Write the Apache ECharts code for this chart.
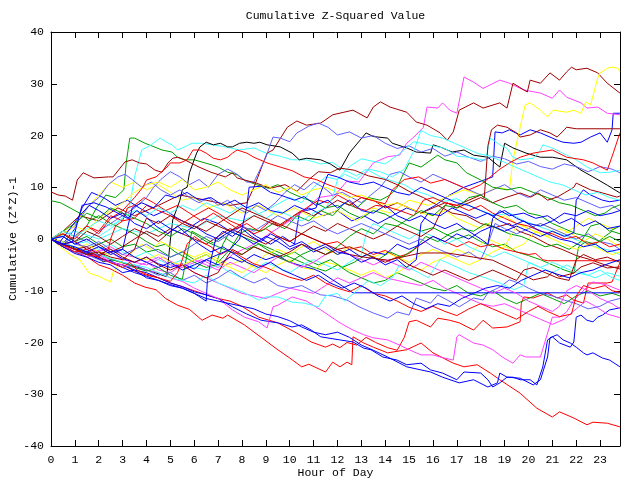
<!DOCTYPE html>
<html><head><meta charset="utf-8">
<script src="https://cdn.jsdelivr.net/npm/echarts@6/dist/echarts.min.js"></script>
<style>html,body{margin:0;padding:0;background:#fff}#c{width:640px;height:480px}</style>
</head><body><div id="c"></div>
<script>
const titleText = 'Cumulative Z-Squared Value';
const xName = 'Hour of Day';
const yName = 'Cumulative (Z*Z)-1';
const xTicks = [0,1,2,3,4,5,6,7,8,9,10,11,12,13,14,15,16,17,18,19,20,21,22,23];
const yTicks = [-40,-30,-20,-10,0,10,20,30,40];

// ---- series values: [hour, cumulative value] ----
const R1 = [[0,0],[0.5,-1.2],[1,-2.5],[1.5,-3.4],[2,-5],[2.5,-5.8],[3,-7],[3.5,-8.5],[3.94,-9.3],[4.4,-9.8],[4.8,-11.5],[5.3,-12.8],[5.8,-13.6],[6.33,-15.7],[6.75,-14.7],[7.2,-15.3],[7.4,-14.7],[8.1,-16.6],[8.8,-19],[9.5,-21.4],[10,-23],[10.5,-24.7],[10.8,-24.2],[11.5,-25.7],[11.8,-23.8],[12.1,-24.7],[12.4,-23.8],[12.6,-24.3],[12.65,-18.9],[13.1,-20.1],[13.5,-20.9],[14.1,-22],[14.9,-21.4],[15.5,-20.1],[16,-22],[16.85,-24],[17.3,-24.7],[17.85,-24.3],[18.4,-25.9],[18.8,-27.2],[19.65,-29.8],[20.35,-32.7],[21,-34.4],[21.3,-33.4],[21.9,-34.6],[22.45,-35.9],[22.7,-35.4],[23.3,-35.6],[23.83,-36.3]];
const R2 = [[0,0],[0.5,-0.8],[1,-2],[1.5,-2.6],[2,-3.5],[2.5,-4.5],[3,-5],[3.5,-6.2],[4,-7],[4.5,-7.5],[5,-8.5],[5.5,-9.2],[6,-10],[6.5,-10.8],[7,-11.5],[7.5,-12],[8,-13],[8.7,-15.1],[9.5,-16.2],[10.3,-18.2],[10.9,-19.9],[11.5,-20.9],[11.8,-20.3],[12.1,-21],[12.4,-20],[12.8,-20.5],[13.2,-19],[13.6,-20],[14.1,-21],[14.5,-21.5],[14.8,-19],[15,-16],[15.3,-15.7],[15.9,-17],[16.2,-15.3],[16.7,-15.7],[17.1,-16.2],[17.7,-17.6],[18.1,-15.7],[18.5,-17.2],[19.1,-17],[19.65,-16],[19.7,-12.4],[19.8,-11.2],[20.2,-11.4],[20.8,-10.4],[21.2,-11.4],[21.6,-10.8],[21.9,-11.8],[22.3,-12.4],[22.5,-8.5],[23.3,-8.5],[23.5,-8.3],[23.7,-6],[23.83,-4.6]];
const R3 = [[0,0],[0.5,1.5],[1,0.5],[1.5,2.5],[2,1.5],[2.5,4.5],[3,3.5],[3.5,4],[4,6.5],[4.5,5.5],[5,4.5],[5.5,3],[6,4.5],[6.6,6],[7,5],[7.5,3.5],[8,2.5],[8.5,1],[9,2],[9.5,0.5],[10,-0.5],[10.5,1],[11,0],[11.5,-1],[12,-0.5],[12.5,-2],[13,-1.5],[13.5,-3],[14,-2.2],[14.5,-3.5],[15,-2.8],[15.5,-1],[16,0.5],[16.5,-0.5],[17,-1.5],[17.5,-0.5],[18,-1.5],[18.5,-1],[19,-2],[19.5,-2.5],[20,-3],[20.3,-2.8],[20.6,-4],[20.8,-4.2],[23.83,-4.2]];
const R4 = [[0,0],[0.5,1],[1,0],[1.5,2.5],[2,1],[2.5,4],[3,5.5],[3.5,8],[3.85,10],[4,11.4],[4.4,12],[4.86,13.9],[5,14.7],[5.4,14.7],[5.7,15.3],[5.95,17.2],[6.24,17.2],[6.5,16.6],[6.8,15.6],[7.1,15.3],[7.4,15.8],[7.6,16.6],[7.8,17.2],[8.2,16.6],[8.5,15.8],[9.05,14.7],[9.6,13.9],[10.1,13.2],[10.6,12],[11.1,11.5],[11.6,10.5],[12.2,9.5],[12.8,8.3],[13.4,7.5],[14,6.8],[14.3,9.5],[14.8,11.5],[15.4,12],[15.9,10.8],[16.5,11.5],[17,10.5],[17.5,9.5],[18,10.5],[18.4,12],[18.8,13.5],[19.2,14.7],[19.65,15.8],[20.2,16.6],[21,17.2],[21.6,15.8],[22.3,15.3],[22.7,14.7],[23.3,13.3],[23.55,16.6],[23.83,20.5]];
const R5 = [[0,0],[0.5,-1.5],[1,-2.5],[1.5,-2],[2,-3.5],[2.4,-2],[2.5,0],[2.7,2.5],[3,3.5],[3.2,6],[3.5,6.5],[3.9,8],[4.3,7],[4.8,5.5],[5.3,6.5],[5.8,5],[6.3,3.5],[6.8,5],[7.3,3.5],[7.8,2],[8.2,3],[8.7,1.5],[9.2,3.5],[9.6,2.5],[10.2,4.5],[10.7,6],[11.2,7.5],[11.6,7],[12,8.5],[12.4,7.5],[12.8,6],[13.2,5.5],[13.6,6.5],[14.1,6.2],[14.6,5.5],[15.2,4.5],[15.6,7.5],[16,8],[16.5,7],[17,6.5],[17.5,5.5],[18,6.5],[18.5,5],[19,4],[19.5,3],[20,2.5],[20.5,1.5],[21,1],[21.5,0],[22,0.5],[22.5,-1],[23,-0.5],[23.4,-1.5],[23.83,-1]];
const R6 = [[0,0],[0.3,-0.8],[0.7,-1.5],[1,-2],[1.5,-3],[2,-3.5],[2.5,-4.6],[3,-5.5],[3.3,-4.5],[3.6,-6],[4,-6.8],[4.5,-7.5],[5,-8.2],[5.3,-6.5],[5.5,-4],[5.7,-1],[6,0.5],[6.3,-0.5],[6.7,-1.5],[7.1,-3],[7.5,-2],[8,-3.5],[8.5,-4.8],[9,-5.5],[9.5,-6.5],[10,-7.4],[10.5,-8],[11,-7],[11.5,-8.5],[12,-9.5],[12.5,-10.2],[13,-9],[13.5,-10.5],[14,-11],[14.5,-12],[15,-13.2],[15.5,-14],[16,-13],[16.5,-14],[17,-14.8],[17.5,-13.5],[18,-12.5],[18.5,-13.5],[19,-14.5],[19.5,-15.5],[20,-14],[20.4,-13],[20.8,-14],[21.3,-15],[21.8,-14.5],[22,-11],[22.3,-9],[22.7,-9.6],[23.2,-9],[23.5,-10],[23.83,-10.3]];
const G1 = [[0,0],[0.5,-1],[1,0.5],[1.5,2.5],[1.9,6],[2.3,8.5],[2.7,8],[3.05,9.5],[3.15,14.7],[3.3,19.5],[3.5,19.5],[3.94,18.5],[4.65,17.2],[5.07,16.8],[5.3,15.8],[5.6,15.3],[6,15.3],[6.45,14.7],[6.75,14.3],[7,13.9],[7.4,12.9],[7.8,12.4],[8.1,11.4],[8.6,10.5],[9.1,9.8],[9.5,10.5],[10,9],[10.5,8],[11,7.2],[11.5,6],[12,6.5],[12.5,5],[13,4],[13.5,5.5],[14,4.8],[14.5,3.5],[15,2.5],[15.5,1.5],[16,2.2],[16.5,1],[17,0],[17.5,0.8],[18,-0.5],[18.5,-1.5],[19,-1],[19.5,-2.5],[20,-3.2],[20.5,-4],[21,-5],[21.5,-6],[21.9,-6.6],[22,-4],[22.1,-1.5],[22.4,-0.5],[22.8,-1],[23.2,0.5],[23.5,1.5],[23.83,1]];
const G2 = [[0,7.4],[0.4,7],[0.8,6],[1.2,5],[1.6,3.5],[2,4.5],[2.5,3],[3,2],[3.5,1],[4,-0.5],[4.4,-1.5],[4.8,-1],[5.2,-2.5],[5.6,-3.5],[6,-4.5],[6.5,-5.5],[6.9,-5],[7.2,-1],[7.5,1.5],[8,0.5],[8.5,-0.5],[9,-1.5],[9.5,-2.5],[10,-3.5],[10.5,-4.5],[11,-5.5],[11.5,-6.2],[12,-5],[12.5,-6.5],[13,-7.5],[13.5,-8.5],[14,-8],[14.5,-6.5],[15,-7.5],[15.5,-8.5],[16,-9.5],[16.5,-10],[17,-9],[17.5,-10.5],[18,-11],[18.5,-10],[19,-11.5],[19.5,-12.5],[20,-11.5],[20.5,-10.5],[21,-11.5],[21.5,-12.5],[22,-11],[22.5,-10],[23,-11],[23.5,-10.5],[23.83,-11]];
const G3 = [[0,0],[0.5,1],[1,-0.5],[1.5,0.5],[2,-1],[2.5,0],[3,-1.5],[3.5,-1],[4,-2.5],[4.5,-2],[5,-3.5],[5.5,-2.5],[6,-4],[6.5,-3],[7,-4.5],[7.5,-2],[7.9,1],[8.3,2],[8.8,1.5],[9.3,3],[9.8,2],[10.3,4.5],[10.8,3.5],[11.3,5.5],[11.8,4.5],[12.3,7],[12.8,6],[13.3,8],[13.8,7.5],[14.2,8.5],[14.5,10],[14.7,12],[15,14.7],[15.5,13.9],[16.2,16.2],[16.5,15.3],[17,14.7],[17.4,12.8],[18,11.4],[18.5,10],[19.1,9.5],[19.65,10],[20.2,9],[20.8,8],[21.3,7],[21.8,6.5],[22.3,5.5],[22.8,4.5],[23.2,5],[23.5,6],[23.83,6.6]];
const G4 = [[0,0],[0.5,-1.2],[1,-1.8],[1.5,-3],[2,-2.5],[2.5,-4],[3,-4.5],[3.5,-5.5],[4,-6.2],[4.5,-5.5],[5,-7],[5.5,-7.8],[5.7,-3],[5.9,1.5],[6.3,0.5],[6.8,-0.8],[7.2,0.5],[7.7,-1],[8.2,-2],[8.7,-1],[9.2,-2.5],[9.7,-3.5],[10.2,-2.5],[10.7,-4],[11.2,-5],[11.7,-4],[12.2,-5.5],[12.7,-4.5],[13.2,-3],[13.7,-4],[14.2,-2.5],[14.7,-3.5],[15.2,-2],[15.7,0.5],[16.2,-0.5],[16.7,1],[17.2,2],[17.7,1.5],[18.2,3],[18.7,2],[19.2,1],[19.7,0.5],[20.2,-0.5],[20.7,-1.5],[21.2,-1],[21.7,-2],[22.2,-0.5],[22.6,2.5],[23,3],[23.4,1.5],[23.83,2.5]];
const G5 = [[0,0],[0.5,1.5],[1,3],[1.5,5],[2,4],[2.5,6],[3,5],[3.5,4],[4,3],[4.5,1.5],[5,0.5],[5.5,2],[6,1],[6.5,-0.5],[7,-1.5],[7.5,-2.5],[8,-3],[8.5,-1.5],[9,-2.5],[9.5,-3.5],[10,-4.5],[10.5,-3],[11,-2],[11.5,-3],[12,-1.5],[12.5,0.5],[13,2],[13.5,1],[14,3],[14.5,2.5],[15,4],[15.5,5.5],[16,4.5],[16.5,6.5],[17,6],[17.5,8],[18,8.5],[18.5,7],[19,6],[19.5,6.5],[20,5],[20.5,4.5],[21,3],[21.5,2],[22,1],[22.5,0.5],[23,-0.5],[23.4,0.5],[23.83,-0.5]];
const B1 = [[0,0],[0.5,-1],[1,2],[1.3,6],[1.7,9],[2.2,8],[2.7,6.5],[3.2,7.5],[3.7,6],[4.3,4.5],[4.8,5.5],[5.3,4],[5.9,2.5],[6.4,4],[7,3],[7.5,1.5],[8,2.5],[8.6,0.5],[9.2,-1],[9.7,0.5],[10.2,-1],[10.4,5],[10.8,6],[11.4,4.5],[12,5.5],[12.6,3.5],[13.1,4.5],[13.7,3],[14.3,4.5],[14.9,6],[15.5,5],[16.1,6.5],[16.7,8.5],[17.3,10],[17.9,11],[18.5,12],[18.6,20.7],[18.9,20.5],[19.2,21.1],[19.65,20.1],[20.07,21.1],[20.5,20.5],[20.9,19.7],[21.2,19.1],[21.45,18.7],[21.9,18.5],[22.2,18.7],[22.6,19.7],[23,20.5],[23.3,18.7],[23.5,21.1],[23.55,24.3],[23.83,24.3]];
const B2 = [[0,0],[0.5,-1],[1,-2],[1.5,-2.8],[2,-3.5],[2.5,-4.5],[3,-5],[3.5,-6],[4,-6.5],[4.5,-7.5],[5,-8.5],[5.5,-9.2],[6,-10.2],[6.5,-10.8],[7,-11.5],[7.6,-13.1],[8.2,-14.5],[8.8,-15.7],[9.5,-16.2],[10.1,-17],[10.5,-16.6],[10.9,-17.6],[11.3,-18.9],[12.1,-19.5],[12.65,-19.9],[13.1,-21.1],[13.4,-21.4],[13.9,-22.8],[14.5,-23.4],[14.9,-24.3],[15.5,-24],[15.9,-25.3],[16.4,-25.9],[17,-27.2],[17.3,-25.7],[18,-25.9],[18.3,-27.2],[18.5,-28.6],[18.8,-27.8],[19.1,-26.7],[19.65,-26.9],[20.2,-28.2],[20.5,-27.2],[20.8,-22.8],[20.9,-19.1],[21.2,-18.5],[21.45,-19.5],[21.75,-20.1],[22,-20.9],[22.3,-22],[22.45,-22.4],[22.7,-22],[23.1,-23],[23.4,-23.4],[23.83,-24.7]];
const B3 = [[0,0],[0.5,-1.2],[1,-1.8],[1.5,-3],[2,-3.8],[2.5,-4.2],[3,-5.5],[3.5,-6.5],[4,-7.2],[4.5,-8],[5,-8.8],[5.5,-9.5],[6,-10.5],[6.5,-11.5],[7,-12],[7.5,-12.5],[8,-13],[8.5,-13.5],[9,-14.5],[9.5,-15],[10,-15.8],[10.5,-17],[11,-18],[11.5,-18.5],[12,-18],[12.5,-19],[13,-20.5],[13.5,-21.5],[14.1,-22.8],[14.9,-24.7],[15.9,-25.7],[16.4,-26.7],[17.1,-27.8],[17.7,-27.2],[18.3,-28.6],[18.7,-27.8],[18.8,-25.9],[19.1,-26.7],[19.35,-26.7],[19.65,-27.2],[20.07,-27.2],[20.35,-28.2],[20.6,-24.7],[20.8,-19.5],[21,-18.9],[21.3,-20.1],[21.75,-20.9],[21.9,-19.9],[22,-15.1],[22.2,-14.7],[22.45,-15.7],[22.7,-16],[22.9,-15.1],[23.1,-14.7],[23.4,-13.7],[23.83,-13.3]];
const B4 = [[0,0],[0.5,-0.5],[1,-1.8],[1.5,-2.5],[2,-3.2],[2.5,-2.5],[3,-3.8],[3.5,-4.5],[4,-3.5],[4.5,-4.8],[5,-5.5],[5.5,-4.8],[6,-5.8],[6.5,-4],[7,-5],[7.5,-3.5],[8,-4.5],[8.5,-3],[9,-4],[9.5,-3.2],[10,-4.5],[10.5,-5.2],[11,-5.8],[11.3,-6.4],[11.8,-7.9],[12.65,-10.4],[23.83,-10.4]];
const B5 = [[0,0],[0.3,-1],[0.8,2],[1.2,4.5],[1.6,6.5],[2,5.5],[2.5,4],[3,5],[3.5,3],[4,2],[4.5,3.5],[5,2],[5.5,1],[6,2.5],[6.5,1],[7,0],[7.5,1.5],[8,0.5],[8.5,-1],[9,0.5],[9.5,-0.5],[10,-2],[10.5,-1],[11,-2.5],[11.5,-1.5],[12,-3],[12.5,-2],[13,-3.5],[13.5,-2.5],[14,-3],[14.5,-1],[15,-2],[15.5,-1],[16,0.5],[16.5,-0.5],[17,1],[17.5,0],[18,1.5],[18.5,2.5],[19,1.5],[19.5,2.5],[20,1.5],[20.5,0.5],[21,1.5],[21.5,0.5],[21.9,1.2],[22,7.5],[22.2,8.9],[22.3,9.5],[22.6,8.5],[22.9,7.9],[23.1,7.5],[23.4,7.2],[23.83,7.5]];
const B6 = [[0,0],[0.5,-1.5],[1,-2.8],[1.5,-3.5],[2,-4.5],[2.5,-5],[3,-6.5],[3.5,-6],[4,-7.5],[4.5,-8],[5,-9],[5.5,-9.5],[6,-10.5],[6.5,-12],[6.55,-8],[6.7,-4],[6.9,0],[7.2,1.5],[7.6,0.5],[8,2],[8.4,0.5],[8.8,-0.5],[9.2,1],[9.6,0],[10,-1.5],[10.5,-0.5],[11,-2],[11.5,-1],[12,-2.5],[12.5,-3],[13,-4.5],[13.5,-3.5],[14,-5],[14.5,-4],[14.9,-5.5],[15.3,-4],[15.5,3],[15.8,5],[16.3,4.5],[16.8,6],[17.3,5],[17.8,4],[18.3,5],[18.8,3.5],[19.3,2.5],[19.8,3.5],[20.3,2],[20.8,1],[21.3,0],[21.8,-0.5],[22.3,-1.5],[22.8,-1],[23.3,-2.5],[23.83,-2]];
const B7 = [[0,0],[0.5,0.5],[1,-1],[1.5,0],[2,-1.5],[2.5,-2.5],[3,-2],[3.5,-3.5],[4,-4.5],[4.5,-5.5],[5,-4.5],[5.5,-6],[6,-5],[6.5,-4],[7,-3],[7.5,-2],[7.9,0],[8.2,6.2],[8.3,10],[8.8,10.2],[9.2,9],[9.6,8.5],[10.2,7.5],[10.6,8.2],[11.1,6.5],[11.6,7.5],[12,6],[12.5,7.5],[13,5.5],[13.5,5],[14,6.5],[14.5,4.5],[15,3.5],[15.5,4.5],[16,3],[16.5,2],[17,3],[17.5,1.5],[18,0],[18.3,-1],[18.5,4],[18.8,5.5],[19.2,4.5],[19.8,5],[20.3,4],[20.8,4.5],[21.3,3],[21.8,4],[22.3,2.5],[22.8,3.5],[23.3,2],[23.83,2.5]];
const B8 = [[0,0],[0.5,-1],[0.9,-0.5],[1.1,3],[1.3,6.5],[1.8,7],[2.3,6.2],[2.8,5],[3.2,4],[3.6,5.5],[4,4.2],[4.4,2.5],[4.9,1],[5.3,2.5],[5.8,0.5],[6.2,-1],[6.7,-2.5],[7.2,-1.5],[7.7,-3],[8.2,-4.5],[8.7,-5.5],[9.2,-4.5],[9.7,-6],[10.2,-7],[10.7,-8],[11.2,-7],[11.7,-8.5],[12.2,-9.5],[12.7,-8.5],[13.2,-9.5],[13.7,-11],[14.2,-12],[14.7,-11],[15.2,-12.5],[15.7,-13.5],[16.2,-12.5],[16.7,-13],[17.2,-11.5],[17.7,-10.5],[18.2,-9.5],[18.7,-9],[19.2,-9.5],[19.7,-8],[20.2,-7],[20.7,-6],[21.2,-6.8],[21.7,-7.5],[22.2,-6.5],[22.7,-6],[23.2,-5],[23.83,-4]];
const B9 = [[0,0],[0.5,-1],[1,-1.5],[1.5,-2.5],[2,-1.5],[2.5,-3],[3,-2],[3.2,2],[3.4,6],[3.8,7],[4.3,6],[4.8,8.5],[5.2,8],[5.7,9],[6.2,7.5],[6.7,8],[7.2,6.5],[7.7,7.5],[8.2,6],[8.7,7],[9.2,5.5],[9.7,5],[10.2,6.5],[10.7,5.5],[11.1,6],[11.3,9],[11.6,12.5],[12,12],[12.5,11],[13,10.5],[13.5,11],[14,10],[14.5,9],[15,8.5],[15.5,10],[16,9],[16.5,8],[17,7],[17.5,6.5],[18,5.5],[18.5,4.5],[19,5.5],[19.5,4],[20,3],[20.5,2.5],[21,3.5],[21.5,5],[22,4.5],[22.5,5.5],[23,4.5],[23.5,5],[23.83,5.5]];
const M1 = [[0,0],[0.7,-1.5],[1.5,-2.5],[2.3,-2],[3,-4],[4,-5],[4.7,-3.5],[5.5,-5.5],[6.3,-4],[7,-5.5],[7.6,-3],[8.5,-1],[9.3,1.5],[10,3.5],[10.6,5.5],[11.2,8],[11.9,8.5],[12.4,11.2],[12.9,11],[13.5,14.7],[14.1,15.9],[14.6,16.2],[14.9,18.5],[15.2,19.7],[15.6,21.6],[15.75,25.5],[16.2,25.3],[16.4,26.3],[16.7,24.9],[17,24.3],[17.3,31.3],[17.7,30.3],[18.1,29.1],[18.8,30.7],[19.2,30.1],[19.8,28.8],[20.5,28.2],[21,27.2],[21.3,28.8],[21.6,27.4],[22.2,26.3],[22.45,25.3],[22.9,25.5],[23.3,24.3],[23.83,24]];
const M2 = [[0,0],[0.5,-1],[1,-2],[1.5,-2.5],[2,-3],[2.5,-4],[3,-4.5],[3.5,-5.5],[4,-6],[4.5,-6.5],[5,-7.5],[5.5,-8.2],[6,-9.5],[6.5,-10.5],[7,-11.5],[7.6,-13.7],[8.1,-15.1],[8.7,-16],[9.05,-17.2],[9.3,-13.1],[9.5,-12.8],[10.1,-11.2],[10.7,-12],[11.3,-13.7],[12.1,-16.2],[12.65,-17.6],[13.1,-18.5],[13.5,-19.1],[14.1,-19.5],[14.6,-20.5],[15,-21.4],[15.5,-22.4],[16,-22.4],[16.3,-22.8],[16.85,-23.4],[17,-18.9],[17.1,-18.5],[17.7,-20.1],[18.1,-20.5],[18.5,-21.4],[18.9,-22.8],[19.35,-24],[19.65,-22.4],[19.9,-22.8],[20.5,-22.8],[21,-15.1],[21.3,-15.1],[21.6,-14.1],[21.9,-11.8],[22.45,-9.3],[22.7,-8.3],[23.3,-8.9],[23.83,-9.9]];
const M3 = [[0,0],[0.5,-1.5],[1,-2],[1.5,-3.5],[2,-3],[2.5,-4.5],[3,-5],[3.5,-5.5],[4,-4.5],[4.5,-6],[5,-6.5],[5.5,-5],[6,-6.5],[6.5,-7.5],[7,-8.5],[7.5,-9.5],[8,-10.5],[8.5,-11],[9,-11.5],[9.5,-10.5],[10,-9.5],[10.5,-10],[11,-10.5],[11.5,-9],[12,-7.5],[12.5,-8.5],[13,-7.5],[13.5,-6.5],[14,-7.5],[14.5,-8],[15,-8.5],[15.5,-9],[16,-8],[16.5,-9.5],[17,-10.5],[17.5,-11.5],[18,-12.5],[18.5,-13],[19,-12.5],[19.5,-13.5],[20,-14.5],[20.5,-15.5],[21,-16.5],[21.5,-15.5],[22,-13.5],[22.4,-12],[22.8,-13],[23.3,-14.5],[23.83,-15.2]];
const M4 = [[0,0],[0.5,-1],[1,-0.5],[1.5,-2],[2,-2.5],[2.5,-1.5],[3,-3],[3.5,-3.5],[4,-4.5],[4.5,-3.5],[5,-5],[5.5,-5.5],[6,-4],[6.5,-5],[7,-6],[7.5,-4.5],[8,-5.5],[8.5,-6.5],[9,-5],[9.5,-3.5],[10,-4.5],[10.5,-5.5],[11,-4.5],[11.5,-3],[12,-2],[12.5,-3],[13,-4],[13.5,-5],[14,-4],[14.5,-5],[15,-6],[15.5,-4.5],[16,-5.5],[16.5,-6.5],[17,-7.5],[17.5,-8.5],[18,-9.5],[18.5,-10.5],[19,-9.5],[19.5,-10.5],[20,-12],[20.5,-13],[21,-14],[21.3,-13],[21.6,-10],[22,-9],[22.5,-10],[23,-11.5],[23.5,-12.5],[23.83,-13.5]];
const C1 = [[0,0],[0.5,1],[1,-0.5],[1.5,1.5],[2,0.5],[2.5,2],[3,4],[3.3,6.5],[3.5,12],[3.8,17.2],[4.2,18.2],[4.57,19.5],[4.8,18.8],[5.07,18.2],[5.3,17.2],[5.6,17.8],[5.9,18.5],[6.3,18.5],[6.75,18.2],[7.3,17.8],[7.9,17.2],[8.5,17.6],[9,16.6],[9.6,16],[10.1,15.3],[10.7,15.3],[11.3,14.5],[11.8,14.8],[12.2,13.5],[12.8,12.2],[13.2,13.5],[13.8,12],[14.3,11.2],[14.8,10.5],[15.2,9.4],[15.8,8.5],[16.4,7.2],[17,7.8],[17.5,6.5],[18,5.5],[18.6,4.5],[19.2,5],[19.8,3.5],[20.4,2.5],[21,1.5],[21.6,0.5],[22.2,-0.5],[22.8,-1.5],[23.4,-2.2],[23.83,-3]];
const C2 = [[0,0],[1,1.5],[2,0],[3,2],[4,1],[5,3],[6,2],[7,4.5],[8,3.5],[9,5.5],[10,8],[10.5,7],[11,10],[11.5,12],[12,11.5],[12.5,14],[13,15.5],[13.5,15],[14,14.5],[14.6,16.5],[15.2,18.8],[15.8,18.2],[16.5,17.5],[17,16],[17.5,15.8],[18.2,15.2],[18.4,19.5],[18.8,18.2],[19.1,17.5],[19.35,15.8],[19.65,15.3],[20.2,15.6],[20.5,17.2],[20.6,18.2],[21,17.6],[21.6,16.2],[22,15.3],[22.45,13.9],[23,12.8],[23.4,12.9],[23.83,13.3]];
const C3 = [[0,0],[0.5,0.5],[1,-1],[1.5,-0.5],[2,-2],[2.5,-1],[3,-2.5],[3.5,-3.5],[4,-2.5],[4.5,-4],[5,-5],[5.5,-4],[6,-5.5],[6.5,-6],[7,-5],[7.5,-6.5],[8,-7.5],[8.5,-6],[9,-4.5],[9.5,-5.5],[10,-6.5],[10.5,-5],[11,-4],[11.5,-5],[12,-6],[12.5,-4.5],[13,-3],[13.2,1],[13.5,3],[14,2],[14.5,1],[15,0],[15.5,1.5],[16,0.5],[16.5,-1],[17,0],[17.5,-1.5],[18,-2.5],[18.5,-3.5],[19,-2.5],[19.5,-3.5],[20,-4.5],[20.5,-5.5],[21,-4.5],[21.5,-5.5],[22,-6.5],[22.5,-7],[23,-6],[23.5,-7.5],[23.83,-8]];
const C4 = [[0,0],[1,-1.5],[2,-3],[3,-4.5],[4,-5.5],[5,-7.5],[6,-8.5],[6.5,-7],[7,-8.5],[8.1,-10.4],[8.7,-11.8],[9,-11.2],[9.5,-11.2],[10.1,-12.2],[10.6,-12.4],[11.2,-13.1],[11.5,-11],[12,-10.5],[12.3,-12],[12.8,-10],[13.3,-8],[13.8,-9],[14.3,-7.5],[14.6,-5],[15.2,-6],[15.8,-7.5],[16.3,-4],[16.8,-5],[17.5,-6.5],[18.2,-7.5],[18.8,-8.5],[19.4,-9.8],[19.8,-9],[20,-4.5],[20.5,-5.5],[21,-6.5],[21.6,-5],[22.2,-6.5],[22.8,-7.5],[23.3,-6.5],[23.83,-7.2]];
const C5 = [[0,0],[0.5,1.5],[1,0.5],[1.5,2],[2,3.5],[2.5,2.5],[3,4],[3.5,5.5],[4,4.5],[4.5,6],[5,5],[5.5,6.5],[6,5.5],[6.5,7],[7,6],[7.5,5],[8,6.5],[8.5,5.5],[9,4],[9.5,5.5],[10,4.5],[10.5,3.5],[11,5],[11.5,6],[11.8,8],[12,11.5],[12.3,12.5],[12.8,11.5],[13.3,13.5],[13.8,13],[14.3,12],[14.8,13.5],[15.2,17],[15.5,21],[15.9,20],[16.4,19.5],[16.9,18.5],[17.4,17.5],[17.9,16.5],[18.4,16],[18.9,15],[19.4,14],[19.9,13],[20.4,12],[20.9,11],[21.4,10.5],[21.9,9.5],[22.4,8.5],[22.9,9],[23.4,8],[23.83,7.5]];
const Y1 = [[0,0],[0.5,1.5],[1,3],[1.5,6],[2,8.5],[2.5,11],[3,10],[3.5,11],[4,9.5],[4.5,10.5],[5,9],[5.5,7.5],[6,8],[6.6,6],[7.2,7],[8,5],[8.7,6.5],[9.5,4.5],[10.2,6],[11,4],[12,5.5],[12.8,3.5],[13.5,6],[14.2,5],[15,7.5],[15.8,6.5],[16.5,8],[17.3,9.5],[18,8.5],[18.7,10],[19.2,9.5],[19.35,15.3],[19.65,21.6],[19.86,25.9],[20.07,26.3],[20.5,24.9],[20.8,23.6],[21.03,24.9],[21.6,24.5],[21.9,24.9],[22.2,24.3],[22.4,26.5],[22.6,25.9],[22.9,31.1],[23,32.1],[23.3,33],[23.5,33.2],[23.75,33],[23.83,32.3]];
const Y2 = [[0,0],[0.4,-1.5],[0.8,-3],[1.2,-4],[1.6,-6.6],[2,-7.2],[2.5,-8.3],[2.6,-6.4],[3,-4],[3.4,-2.5],[3.8,-1],[4.2,-2],[4.6,-0.5],[5,-1.5],[5.5,-2.5],[6,-3.5],[6.5,-2.5],[7,-4],[7.5,-5],[8,-4],[8.5,-5.5],[9,-6.5],[9.5,-5],[10,-4],[10.5,-5.5],[11,-6],[11.5,-4.5],[12,-5],[12.5,-6],[13,-7],[13.5,-6],[14,-7.5],[14.5,-6.5],[15,-5],[15.5,-6],[16,-4.5],[16.5,-3.5],[17,-2],[17.5,-3],[18,-1],[18.3,0],[18.8,-1],[19.3,-2],[19.8,-1],[20.3,1.5],[20.8,0.5],[21.3,2],[21.8,1],[22.3,-0.5],[22.8,1],[23.3,0],[23.83,-1.5]];
const Y3 = [[0,0],[0.5,1],[1,2.5],[1.5,1.5],[2,4],[2.5,5.5],[3,7],[3.5,9],[4,10.5],[4.5,11],[5,10],[5.5,11.5],[6,9.5],[6.5,10],[7,11],[7.5,9.5],[8,8.5],[8.5,9.5],[9,10.5],[9.5,9],[10,10],[10.5,8.5],[11,9.5],[11.5,10],[12,9],[12.5,8],[13,8.5],[13.5,7.5],[14,6.5],[14.5,7],[15,6],[15.5,5],[16,4.5],[16.5,5.5],[17,4],[17.5,3],[18,2],[18.5,3.5],[19,4.5],[19.5,3],[20,2],[20.5,3],[21,2],[21.5,1],[22,2.5],[22.5,4],[23,3],[23.5,2],[23.83,2.5]];
const Y4 = [[0,0],[0.5,-0.5],[1,-2],[1.5,-1],[2,-2.5],[2.5,-3],[3,-2],[3.5,-3.5],[4,-4],[4.5,-3],[5,-4.5],[5.5,-5],[6,-4],[6.5,-3],[7,-4.5],[7.5,-5.5],[8,-6.5],[8.5,-5],[9,-3],[9.5,-2],[10,-3],[10.5,-1.5],[11,-0.5],[11.5,-2],[12,-3],[12.5,-1.5],[13,-2.5],[13.5,-3.5],[14,-2.5],[14.5,-3.5],[15,-4.5],[15.5,-3],[16,-2],[16.5,-3],[17,-4],[17.5,-5],[18,-4],[18.5,-2.5],[19,-1.5],[19.3,1],[19.6,3],[20,2],[20.5,1],[21,0],[21.5,-1],[22,-2],[22.5,-1],[23,-2],[23.5,-3],[23.83,-2.5]];
const K1 = [[0,0],[0.5,-1],[1,-2],[1.5,-2.5],[2.2,-4.4],[2.6,-4],[3,-4.6],[3.6,-5.4],[4.3,-6.4],[4.85,-7.3],[4.95,-2.5],[5,-0.2],[5.1,3.7],[5.4,7.5],[5.5,9.5],[5.7,10],[5.8,12.8],[5.95,14.7],[6.1,16.6],[6.24,17.8],[6.5,18.7],[6.8,18.2],[7.1,18.5],[7.4,17.8],[7.6,17.8],[7.9,18.5],[8.2,18.7],[8.5,18.5],[8.75,18.7],[9.05,18.2],[9.6,17.8],[10.1,16.6],[10.4,15.3],[10.7,15.6],[11.3,15.3],[11.7,14.5],[12.1,13.3],[12.5,16.6],[12.6,17.2],[13.2,20.5],[13.5,19.8],[14.1,19.5],[14.3,18.5],[14.9,17.6],[15.3,16.8],[15.9,16.6],[16,18.2],[16.4,17.6],[16.8,16.8],[17.3,17.2],[17.7,16.2],[18.3,15.8],[18.8,13.9],[19,18.5],[19.35,17.6],[19.9,16.6],[20.5,15.8],[21,15.8],[21.6,15.3],[22.2,13.3],[22.7,12],[23.3,10.4],[23.83,8.9]];
const S1 = [[0,0],[0.5,-1],[1,0.5],[1.5,-0.5],[2,1.5],[2.5,3],[3,4.5],[3.5,6],[4,8],[4.3,10],[4.6,11.5],[5,13],[5.4,12],[5.8,10.5],[6.2,11.5],[6.6,10],[7,12.5],[7.4,13.5],[7.8,12.5],[8.2,11],[8.5,11],[9,15.8],[9.3,19.7],[9.6,19.5],[10,18.8],[10.3,20.5],[10.8,21.8],[11.2,22.4],[11.6,21.6],[12,20.1],[12.5,20.7],[13,19.5],[13.5,20],[14,18.5],[14.5,17.5],[15,18],[15.5,16.8],[16,17.5],[16.5,16],[17,16.8],[17.5,15.8],[18,15],[18.5,16],[19,15.5],[19.5,14.5],[20,15],[20.5,14],[21,13.5],[21.5,14.5],[22,14],[22.5,13],[23,14],[23.5,13.5],[23.83,12.8]];
const S2 = [[0,0],[0.5,1],[1,2.5],[1.3,4.5],[1.6,6.5],[2,8],[2.4,10.5],[2.8,12],[3.1,12.5],[3.4,11.5],[3.8,10],[4.2,11],[4.6,9.5],[5,8.5],[5.4,9.5],[5.8,8],[6.2,7],[6.6,8],[7,6.5],[7.4,7.5],[7.8,6],[8.2,5],[8.6,6.5],[9,5.5],[9.4,7],[9.8,9],[10.2,10.5],[10.6,9.5],[11,11],[11.4,10],[11.8,8.5],[12.2,9],[12.6,8],[13,7],[13.4,8.5],[13.8,10],[14.2,12.5],[14.6,13],[15,12],[15.5,11],[16,12.5],[16.5,11.5],[17,10.5],[17.5,9.5],[18,8.5],[18.5,9.5],[19,10.5],[19.5,9],[20,8],[20.5,9.5],[21,8.5],[21.5,7.5],[22,8],[22.5,7],[23,6],[23.5,6.5],[23.83,5.5]];
const S3 = [[0,0],[0.5,-1.5],[1,-2.5],[1.5,-3],[2,-4],[2.5,-4.5],[3,-5.5],[3.5,-5],[4,-6],[4.5,-7],[5,-6.5],[5.5,-8],[6,-7],[6.5,-8.5],[7,-7.5],[7.5,-6],[8,-7.5],[8.5,-8.5],[9,-7.5],[9.5,-9],[10,-9.5],[10.5,-9],[11,-10.2],[11.3,-10.8],[11.8,-11],[12.4,-11.8],[12.9,-13.1],[13.5,-14.3],[14.1,-15.3],[14.5,-14.1],[15,-14.7],[15.3,-11.4],[15.9,-12.4],[16.2,-10.8],[16.6,-11.8],[17.1,-13.1],[17.7,-11.4],[18.1,-11.8],[18.3,-10.4],[18.8,-9.3],[19.2,-7.9],[19.6,-8.5],[20,-9.5],[20.5,-10.5],[21,-11],[21.5,-11.8],[22,-12.5],[22.5,-13.5],[23,-13],[23.4,-12],[23.83,-11.5]];
const S4 = [[0,0],[0.5,0.5],[1,-1],[1.5,-1.5],[2,-0.5],[2.5,-2],[3,-3],[3.5,-2],[4,-1],[4.5,-2.5],[5,-3.5],[5.5,-2.5],[6,-1],[6.5,0.5],[7,-0.5],[7.5,1],[8,2.5],[8.5,1.5],[9,3],[9.5,4.5],[10,3.5],[10.5,2.5],[11,3.5],[11.5,2],[12,1],[12.5,2],[13,3],[13.5,2],[14,1],[14.5,0],[15,-1],[15.5,0],[16,-1.5],[16.5,-2.5],[17,-3.5],[17.5,-2.5],[18,-4],[18.3,-1],[18.6,3],[19,2],[19.5,1],[20,2],[20.5,3],[21,2],[21.5,1],[22,0],[22.5,1],[23,-0.5],[23.5,-1],[23.83,-2]];
const D1 = [[0,0],[0.5,1.5],[1.2,4.5],[2,3.5],[2.8,6],[3.5,4.5],[4.5,6.5],[5.4,8.5],[6.5,7.5],[7.5,6.5],[8.2,7],[8.5,10],[9.05,16.6],[9.3,17.2],[9.9,21.6],[10.3,22.8],[10.7,22],[11.3,22.4],[11.8,24],[12.65,24.9],[13.24,23.4],[13.5,25.5],[13.8,26.5],[14.2,25.5],[14.9,24.5],[15.3,22.6],[15.75,22],[16.3,20.5],[16.6,19.1],[16.85,20.7],[17.1,24.9],[17.7,26.3],[18.1,25.3],[18.8,26.3],[19.1,25.3],[19.35,30.1],[19.95,28.4],[20.07,30.7],[20.5,30.1],[20.9,32.1],[21.3,30.7],[21.6,32.3],[21.8,33.2],[22,32.7],[22.45,33],[22.9,32.1],[23.3,30.1],[23.83,28.2]];
const D2 = [[0,9.1],[0.3,8.5],[0.6,8.3],[0.9,7.5],[1.1,11.4],[1.35,12.8],[1.8,11.8],[2.4,12],[2.6,12],[3.1,14.9],[3.4,15.3],[3.7,14.7],[4,14.5],[4.36,13.3],[4.65,12.9],[4.9,14.7],[5.1,15.6],[5.3,15.8],[5.6,15.3],[6.2,13.9],[6.7,12.9],[7.3,12],[7.6,12.8],[7.8,11.8],[8.1,11.4],[8.6,10.8],[9.2,9.8],[9.8,10.5],[10.3,9.2],[10.8,11.5],[11.2,13],[11.7,12.8],[12.1,13.7],[12.7,13.3],[13.3,12.2],[14,11.5],[14.5,10.5],[15,9.2],[15.6,8],[16.2,6.5],[16.8,5],[17.4,4.5],[18,3],[18.6,2.2],[19.2,3],[19.6,1.5],[20.2,0.5],[20.8,-1],[21.4,-2],[22,-3.2],[22.6,-4],[23.2,-5],[23.83,-5.8]];
const D3 = [[0,0],[0.5,1],[1,-0.5],[1.5,1.5],[2,0.5],[2.5,-1],[3,0.5],[3.5,2],[4,1],[4.5,-0.5],[5,1.5],[5.5,3],[6,2],[6.5,3.5],[7,2.5],[7.5,1.5],[8,3],[8.5,4.5],[9,3.5],[9.5,2.5],[10,4],[10.5,5.5],[11,4.5],[11.5,6],[12,7.5],[12.5,6.5],[13,8],[13.5,7.5],[14,6],[14.5,7],[15,6],[15.5,5],[16,6],[16.5,7],[17,6.5],[17.5,7.5],[18,8.5],[18.15,8],[18.3,18],[18.45,21.1],[18.7,22],[19.1,21.6],[19.5,20.5],[19.65,19.7],[20.07,20.1],[20.5,21.1],[20.9,20.5],[21.2,19.7],[21.5,21.1],[21.6,21.6],[22,21.3],[23.83,21.3]];
const D4 = [[0,0],[0.5,-1],[1,-0.5],[1.5,-2],[2,-1],[2.5,-2.5],[3,-1.5],[3.5,0],[4,1.5],[4.5,0.5],[5,2],[5.5,1],[6,0],[6.5,-1],[7,0.5],[7.5,2],[8,1],[8.5,0],[9,-1],[9.5,0.5],[10,-0.5],[10.5,1],[11,2.5],[11.5,1.5],[12,3],[12.5,2],[13,1],[13.5,0],[14,1],[14.5,2.5],[15,1.5],[15.5,0.5],[16,2],[16.3,5],[16.6,7],[17,6],[17.5,7],[18,8],[18.5,7],[19.1,8.1],[19.65,8.9],[20.1,8.1],[20.4,8.9],[20.8,7.5],[21.2,8.1],[21.5,8.9],[21.9,10],[22,10.8],[22.6,9.5],[23.1,8.9],[23.7,8.1],[23.83,8.3]];
const D5 = [[0,0],[0.5,-1],[1,-2],[1.5,-1.5],[2,-3],[2.5,-2],[3,-3.5],[3.5,-4.5],[4,-3.5],[4.5,-5],[5,-6],[5.5,-5],[6,-6.5],[6.5,-7.5],[7,-6.5],[7.3,-4],[7.6,-2],[8,-3],[8.5,-1.5],[9,-2.5],[9.5,-3.5],[10,-2.5],[10.5,-1],[11,-2],[11.5,-3],[12,-2],[12.5,-3],[13.1,-3.5],[14.1,-4.1],[15.5,-2.7],[16.6,-2.7],[17.7,-3.5],[18.5,-4.1],[19.1,-5.4],[19.65,-6.6],[20.2,-7.9],[20.8,-7.3],[21,-6.4],[21.3,-7.3],[21.9,-6.6],[22.2,-5.4],[22.7,-4.6],[23.3,-5.6],[23.83,-5.4]];
const D6 = [[0,0],[0.5,-1],[1,-2],[1.5,-3],[2,-2.5],[2.5,-3.5],[3,-4],[3.5,-2],[3.8,2],[4,4],[4.5,3],[5,4.5],[5.5,3.5],[6,2.5],[6.5,1.5],[7,3],[7.5,4.5],[8,6],[8.5,5],[9,4],[9.5,3],[10,2],[10.5,1],[11,0],[11.5,-1],[12,-2],[12.5,-1.5],[13,-2.5],[13.5,-3.5],[14,-4.5],[14.5,-3.5],[15,-5],[15.5,-6],[16,-7],[16.5,-6],[17,-7],[17.5,-8],[18,-7],[18.5,-6],[19,-7],[19.5,-8],[19.8,-6],[20.2,-5.5],[20.7,-6.5],[21.2,-7.5],[21.7,-8],[22,-4],[22.3,-3],[22.8,-4],[23.3,-3.5],[23.83,-4.5]];

// ---- styles ----
const RED='#ff0000', GRN='#00a000', BLU='#0000ff', MAG='#ff40ff', CYN='#40ffff', DRD='#a00000', YEL='#ffff00', BLK='#000000', SLB='#6060ff';
const seriesList = [
  [R1,RED],[G1,GRN],[B1,BLU],[M1,MAG],[C1,CYN],[D1,DRD],[Y1,YEL],[K1,BLK],[S1,SLB],
  [R2,RED],[G2,GRN],[B2,BLU],[M2,MAG],[C2,CYN],[D2,DRD],[Y2,YEL],[S2,SLB],
  [R3,RED],[G3,GRN],[B3,BLU],[M3,MAG],[C3,CYN],[D3,DRD],[Y3,YEL],[S3,SLB],
  [R4,RED],[G4,GRN],[B4,BLU],[M4,MAG],[C4,CYN],[D4,DRD],[Y4,YEL],[S4,SLB],
  [R5,RED],[G5,GRN],[B5,BLU],[C5,CYN],[D5,DRD],
  [R6,RED],[B6,BLU],[D6,DRD],[B7,BLU],[B8,BLU],[B9,BLU]
];

const FONT = '"Liberation Mono", "DejaVu Sans Mono", monospace';
const txt = {fontFamily: FONT, fontSize: 11.5, color: '#000'};
const GRID = {left: 51, right: 20, top: 32, bottom: 34, containLabel: false, outerBoundsMode: 'none'};
const X_MAX = 23.8333;

function axisCommon(){
  return {
    axisLine: {show: true, onZero: false, lineStyle: {color: '#000', width: 1}},
    axisTick: {show: true, inside: true, length: 6, lineStyle: {color: '#000', width: 1}},
    splitLine: {show: false}
  };
}
const chart = echarts.init(document.getElementById('c'), null, {renderer: 'canvas'});
chart.setOption({
  animation: false,
  backgroundColor: '#fff',
  title: {text: titleText, top: 10, left: 335.5, textAlign: 'center', padding: 0,
    textStyle: Object.assign({}, txt, {fontWeight: 'normal'})},
  grid: GRID,
  xAxis: [
    Object.assign(axisCommon(), {type: 'value', min: 0, max: X_MAX, interval: 1, position: 'bottom',
      name: xName, nameLocation: 'middle', nameGap: 21, nameMoveOverlap: false, nameTextStyle: txt,
      axisLabel: Object.assign({}, txt, {margin: 8, formatter: v => (xTicks.indexOf(v) >= 0 ? String(v) : '')})}),
    Object.assign(axisCommon(), {type: 'value', min: 0, max: X_MAX, interval: 1, position: 'top',
      axisLabel: {show: false}})
  ],
  yAxis: [
    Object.assign(axisCommon(), {type: 'value', min: -40, max: 40, interval: 10, position: 'left',
      name: yName, nameLocation: 'middle', nameGap: 32, nameMoveOverlap: false, nameRotate: 90, nameTextStyle: txt,
      axisLabel: Object.assign({}, txt, {margin: 7, formatter: v => (yTicks.indexOf(v) >= 0 ? String(v) : '')})}),
    Object.assign(axisCommon(), {type: 'value', min: -40, max: 40, interval: 10, position: 'right',
      axisLabel: {show: false}})
  ],
  series: seriesList.map((s, i) => ({
    type: 'line', data: s[0], xAxisIndex: 0, yAxisIndex: 0,
    symbol: 'none', showSymbol: false, silent: true,
    lineStyle: {color: s[1], width: 1}, itemStyle: {color: s[1]},
    z: 2
  }))
});
</script></body></html>
